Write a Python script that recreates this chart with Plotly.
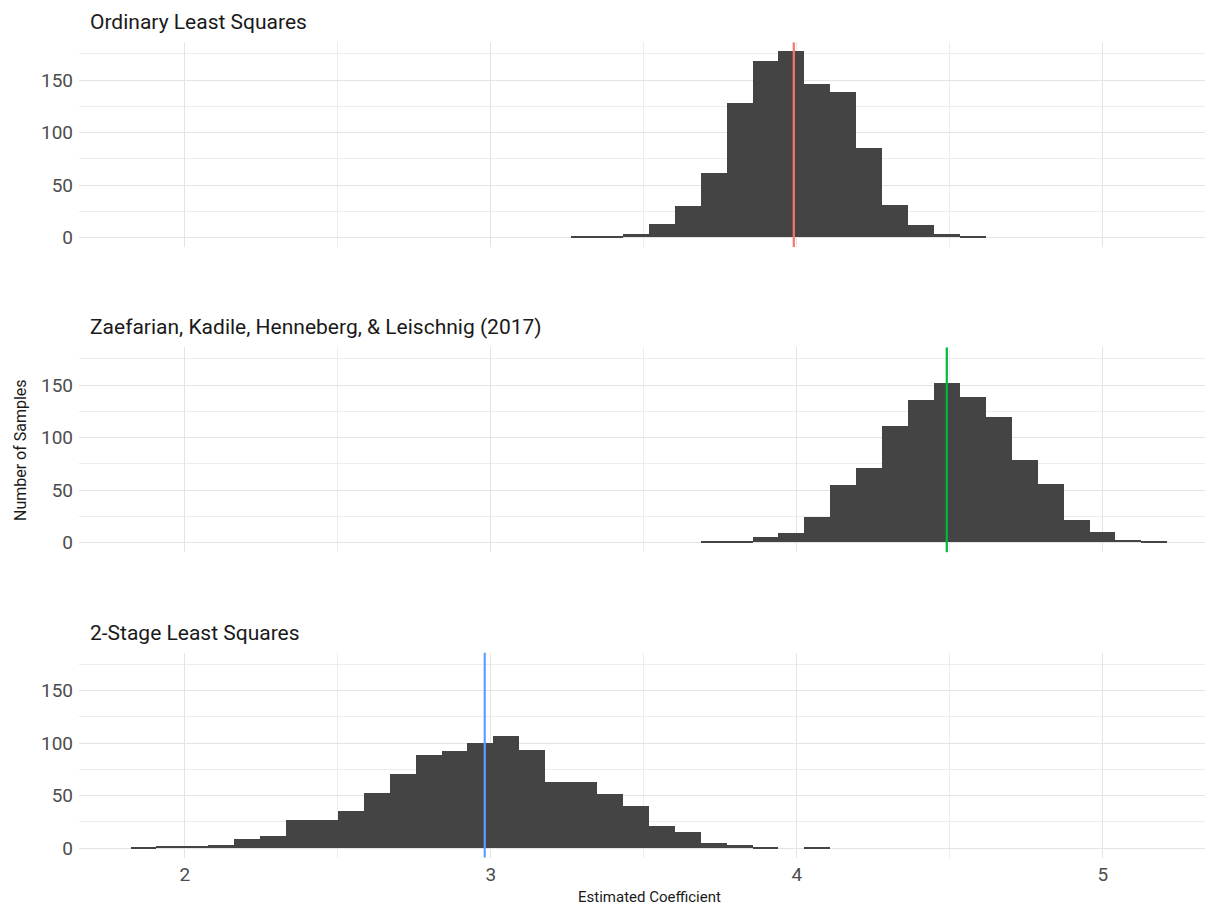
import plotly.graph_objects as go

# ---------------- data ----------------
panel_titles = [
    "Ordinary Least Squares",
    "Zaefarian, Kadile, Henneberg, & Leischnig (2017)",
    "2-Stage Least Squares",
]
bin_origin = 1.8225
bin_width = 0.0847

ols_first_bin = 17
ols_counts = [1, 1, 3, 13, 30, 61, 128, 168, 177, 146, 138, 85, 31, 12, 3, 1]
ols_mean = 3.99

zkhl_first_bin = 22
zkhl_counts = [1, 1, 5, 9, 24, 55, 71, 111, 136, 152, 138, 119, 78, 56, 21, 10, 2, 1]
zkhl_mean = 4.49

tsls_first_bin = 0
tsls_counts = [1, 2, 2, 3, 9, 12, 27, 27, 36, 53, 71, 89, 93, 100, 107, 94,
               63, 63, 52, 40, 21, 16, 5, 3, 1, 0, 1]
tsls_mean = 2.98

line_colors = ["#F8766D", "#00BA38", "#619CFF"]
x_ticks = [2, 3, 4, 5]
y_ticks = [0, 50, 100, 150]

# ---------------- figure ----------------
# The page body has an 8px margin, so the figure is drawn 8px smaller and
# all pixel positions are shifted by 8px.
OFF = 8
W, H = 1213 - OFF, 911 - OFF
FONT = "Roboto, sans-serif"
BAR = "#444444"
GRID = "#E4E4E4"
GRID_MINOR = "#EDEDED"

panels = [
    (ols_first_bin, ols_counts, ols_mean),
    (zkhl_first_bin, zkhl_counts, zkhl_mean),
    (tsls_first_bin, tsls_counts, tsls_mean),
]

# pixel geometry of each panel in the reference (top, bottom)
panel_px = [(42.5, 247.6), (348.2, 553.4), (654.2, 859.4)]
left_px = 79


def px_x(p):
    return (p - OFF) / W


def px_y(p):
    return 1 - (p - OFF) / H


fig = go.Figure()
shapes = []
annotations = []

for i, ((first, counts, mean), (top, bot)) in enumerate(zip(panels, panel_px)):
    n = i + 1
    xa = "x" if n == 1 else f"x{n}"
    ya = "y" if n == 1 else f"y{n}"
    centers = [bin_origin + (first + k + 0.5) * bin_width for k in range(len(counts))]
    fig.add_trace(go.Bar(
        x=centers, y=counts, width=[bin_width] * len(counts),
        marker=dict(color=BAR, line=dict(width=0)),
        xaxis=xa, yaxis=ya, showlegend=False, hoverinfo="x+y",
    ))
    shapes.append(dict(
        type="line", xref=xa, yref=f"{ya} domain",
        x0=mean, x1=mean, y0=0, y1=1,
        line=dict(color=line_colors[i], width=2.2), layer="above",
    ))
    annotations.append(dict(
        text=panel_titles[i], xref="paper", yref="paper",
        x=px_x(88), y=px_y(top - 20), xanchor="left", yanchor="middle",
        showarrow=False, font=dict(family=FONT, size=21, color="#1A1A1A"),
    ))
    ydom = [px_y(bot), px_y(top)]
    fig.layout[f"yaxis{'' if n == 1 else n}"] = dict(
        domain=ydom, anchor=xa, range=[-9, 186],
        tickvals=y_ticks, showgrid=True, gridcolor=GRID, gridwidth=1.3,
        minor=dict(showgrid=True, dtick=25, tick0=0, gridcolor=GRID_MINOR, gridwidth=1),
        zeroline=False, showline=False, ticks="",
        tickfont=dict(family=FONT, size=19, color="#4D4D4D"),
        ticklabelstandoff=5,
    )
    fig.layout[f"xaxis{'' if n == 1 else n}"] = dict(
        domain=[px_x(left_px), 1], anchor=ya, range=[1.654, 5.36],
        tickvals=x_ticks, showticklabels=(n == 3),
        showgrid=True, gridcolor=GRID, gridwidth=1.3,
        minor=dict(showgrid=True, dtick=0.5, tick0=0, gridcolor=GRID_MINOR, gridwidth=1),
        zeroline=False, showline=False, ticks="",
        tickfont=dict(family=FONT, size=19, color="#4D4D4D"),
        ticklabelstandoff=3,
    )

annotations.append(dict(
    text="Number of Samples", xref="paper", yref="paper",
    x=px_x(20), y=px_y(451), textangle=-90, xanchor="center", yanchor="middle",
    showarrow=False, font=dict(family=FONT, size=16, color="#1A1A1A"),
))
annotations.append(dict(
    text="Estimated Coefficient", xref="paper", yref="paper",
    x=px_x(649), y=px_y(899), xanchor="center", yanchor="middle",
    showarrow=False, font=dict(family=FONT, size=15, color="#1A1A1A"),
))

fig.update_layout(
    width=W, height=H,
    margin=dict(l=0, r=0, t=0, b=0),
    paper_bgcolor="white", plot_bgcolor="white",
    bargap=0, barmode="overlay",
    shapes=shapes, annotations=annotations,
    font=dict(family=FONT),
)

fig.write_html("out.html")
